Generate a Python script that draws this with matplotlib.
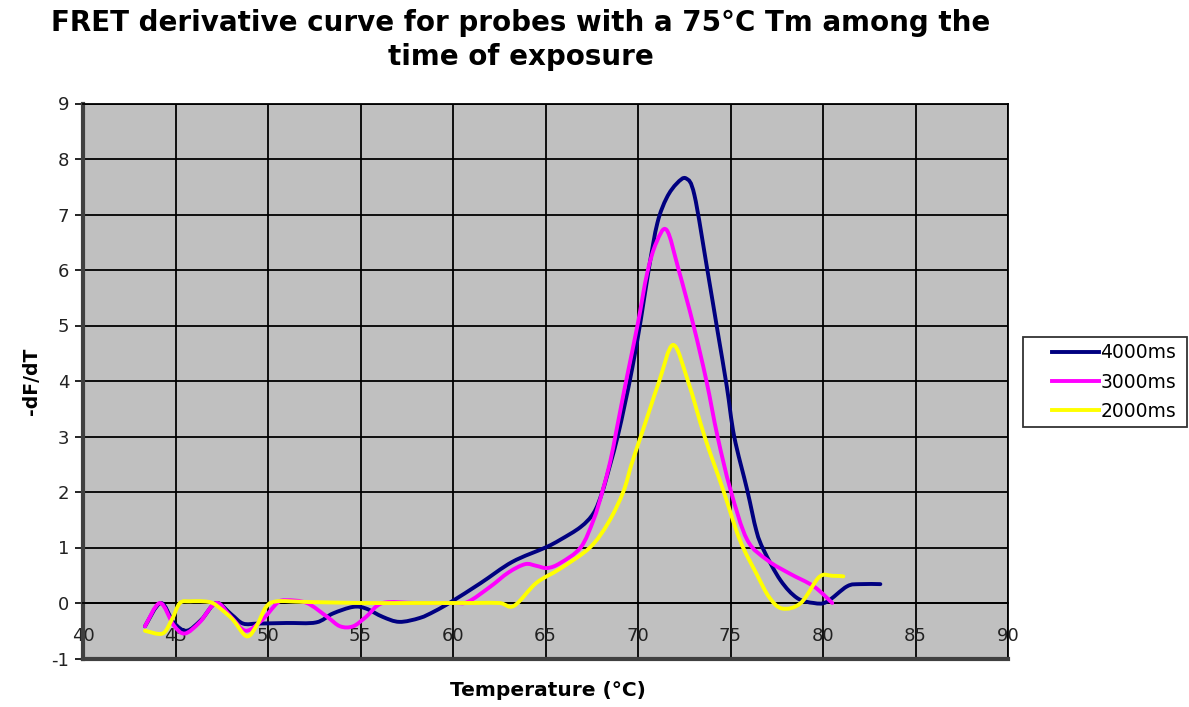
import matplotlib
matplotlib.use("Agg")
import matplotlib.pyplot as plt
from matplotlib.path import Path
from matplotlib.patches import PathPatch, Rectangle
from matplotlib.lines import Line2D

plt.rcParams["axes.unicode_minus"] = False

# ---- data ----
series_names = ["4000ms", "3000ms", "2000ms"]
series_colors = ["#000080", "#FF00FF", "#FFFF00"]

x_4000 = [43.35, 44.2, 44.9, 45.6, 46.4, 47.2, 48.0, 48.65, 49.5, 51.0, 52.6, 53.5, 54.6,
          55.3, 56.2, 57.1, 58.2, 59.0, 59.9, 61.5, 63.2, 65.0, 65.8, 66.9, 67.6, 68.05,
          68.5, 68.9, 69.3, 69.7, 70.15, 70.6, 71.05, 71.55, 72.1, 72.6, 73.05,
          73.75, 74.3, 74.8, 75.2, 75.9, 76.4, 76.8, 77.7, 78.6, 79.5, 80.2, 81.3, 82.0, 83.1]
y_4000 = [-0.42, 0.0, -0.35, -0.5, -0.3, 0.0, -0.2, -0.37, -0.37, -0.36, -0.35, -0.19, -0.07,
          -0.1, -0.25, -0.34, -0.27, -0.15, 0.02, 0.36, 0.74, 1.0, 1.14, 1.37, 1.62, 1.98,
          2.5, 3.0, 3.6, 4.25, 5.1, 6.05, 6.85, 7.3, 7.56, 7.65, 7.35,
          6.0, 4.9, 3.9, 3.0, 2.04, 1.3, 0.95, 0.41, 0.09, 0.0, 0.02, 0.3, 0.34, 0.34]

x_3000 = [43.35, 44.16, 44.9, 45.5, 46.3, 47.2, 48.0, 48.8, 49.7, 50.5, 51.0, 52.1, 53.2,
          53.9, 54.6, 55.3, 56.2, 58.0, 60.0, 60.8, 62.0, 63.0, 63.9, 64.5, 65.1, 65.8,
          66.9, 67.6, 68.05, 68.5, 68.8, 69.15, 69.45, 70.0, 70.5, 71.0, 71.55, 72.2, 73.0,
          73.7, 74.3, 75.0, 75.9, 77.0, 78.2, 79.5, 80.5]
y_3000 = [-0.42, 0.0, -0.4, -0.55, -0.35, 0.0, -0.25, -0.5, -0.3, 0.0, 0.05, 0.0, -0.25,
          -0.42, -0.42, -0.25, 0.0, 0.0, 0.0, 0.02, 0.29, 0.55, 0.7, 0.67, 0.63, 0.72,
          1.0, 1.5, 1.98, 2.55, 3.05, 3.65, 4.15, 5.05, 5.95, 6.5, 6.72, 6.0, 5.0,
          4.0, 3.0, 2.04, 1.14, 0.77, 0.53, 0.3, 0.0]

x_2000 = [43.35, 44.3, 44.8, 45.24, 45.8, 46.5, 47.0, 47.5, 48.1, 48.85, 49.4, 49.9, 50.47,
          52.0, 55.0, 58.0, 61.0, 62.5, 63.3, 64.5, 65.8, 67.4, 68.4, 69.2, 69.65, 70.15,
          70.65, 71.15, 71.9, 72.7, 73.6, 74.6, 75.5, 76.4, 77.1, 77.8, 78.8, 79.8, 80.5, 81.1]
y_2000 = [-0.5, -0.55, -0.3, 0.0, 0.03, 0.03, 0.0, -0.12, -0.3, -0.6, -0.4, -0.07, 0.03,
          0.02, 0.0, 0.0, 0.0, 0.0, -0.05, 0.36, 0.62, 1.0, 1.45, 2.0, 2.5, 3.0,
          3.5, 4.0, 4.65, 4.0, 3.0, 2.04, 1.14, 0.53, 0.1, -0.1, 0.0, 0.47, 0.49, 0.48]

x_ticks = [40, 45, 50, 55, 60, 65, 70, 75, 80, 85, 90]
y_ticks = [-1, 0, 1, 2, 3, 4, 5, 6, 7, 8, 9]

title = "FRET derivative curve for probes with a 75°C Tm among the\ntime of exposure"
x_label = "Temperature (°C)"
y_label = "-dF/dT"


def smooth_path(xv, yv):
    """Excel-like smoothed line: Catmull-Rom segments as cubic Bezier curves."""
    n = len(xv)
    verts = [(xv[0], yv[0])]
    codes = [Path.MOVETO]
    for i in range(n - 1):
        x0, y0 = (xv[i - 1], yv[i - 1]) if i > 0 else (xv[i], yv[i])
        x1, y1 = xv[i], yv[i]
        x2, y2 = xv[i + 1], yv[i + 1]
        x3, y3 = (xv[i + 2], yv[i + 2]) if i + 2 < n else (x2, y2)
        c1 = (x1 + (x2 - x0) / 6.0, y1 + (y2 - y0) / 6.0)
        c2 = (x2 - (x3 - x1) / 6.0, y2 - (y3 - y1) / 6.0)
        verts += [c1, c2, (x2, y2)]
        codes += [Path.CURVE4] * 3
    return Path(verts, codes)


# ---- figure ----
fig = plt.figure(figsize=(11.89, 7.07), dpi=100)
ax = fig.add_axes([83 / 1189, 1 - 658.5 / 707, (1008 - 83) / 1189, (658.5 - 103.5) / 707])
ax.set_facecolor("#C0C0C0")

xs = [x_4000, x_3000, x_2000]
ys = [y_4000, y_3000, y_2000]
handles = []
for xv, yv, name, col in zip(xs, ys, series_names, series_colors):
    patch = PathPatch(smooth_path(xv, yv), fill=False, edgecolor=col, lw=2.8,
                      capstyle="round", joinstyle="round", zorder=3)
    ax.add_patch(patch)
    handles.append(Line2D([], [], color=col, lw=2.8, label=name))

ax.set_xlim(40, 90)
ax.set_ylim(-1, 9)
ax.set_xticks(x_ticks)
ax.set_yticks(y_ticks)
ax.grid(True, color="black", lw=1.3)
ax.set_axisbelow(True)

# x axis crosses at y = 0 (labels drawn there)
ax.spines["bottom"].set_position(("data", 0))
ax.spines["bottom"].set_color("black")
ax.spines["bottom"].set_linewidth(1.3)
ax.axhline(-1, color="#404040", lw=3, clip_on=False, zorder=5)
ax.spines["left"].set_color("#404040")
ax.spines["left"].set_linewidth(3)
ax.spines["top"].set_color("black")
ax.spines["top"].set_linewidth(1.3)
ax.spines["right"].set_color("black")
ax.spines["right"].set_linewidth(1.3)

ax.tick_params(axis="x", length=0, pad=17, labelsize=13, labelcolor="#222222")
ax.tick_params(axis="y", length=6, width=1.2, pad=4, labelsize=13, labelcolor="#222222")

fig.text(521 / 1189, 1 - 40 / 707, title, ha="center", va="center",
         fontsize=20, fontweight="bold", linespacing=1.25)
fig.text(548 / 1189, 1 - 690 / 707, x_label, ha="center", va="center",
         fontsize=14.5, fontweight="bold")
fig.text(32 / 1189, 1 - 381 / 707, y_label, ha="center", va="center",
         rotation=90, fontsize=13.5, fontweight="bold")

# legend box
fig.patches.append(Rectangle((1023 / 1189, 1 - 427 / 707), 164 / 1189, 90 / 707,
                             transform=fig.transFigure, facecolor="white",
                             edgecolor="#333333", lw=1.3, zorder=1))
leg = fig.legend(handles=handles, loc="center", bbox_to_anchor=(1114 / 1189, 1 - 382 / 707),
                 fontsize=13.5, frameon=False, handlelength=2.5, handletextpad=0.1,
                 borderpad=0.2, labelspacing=0.55)

fig.savefig("out.png", dpi=100)
